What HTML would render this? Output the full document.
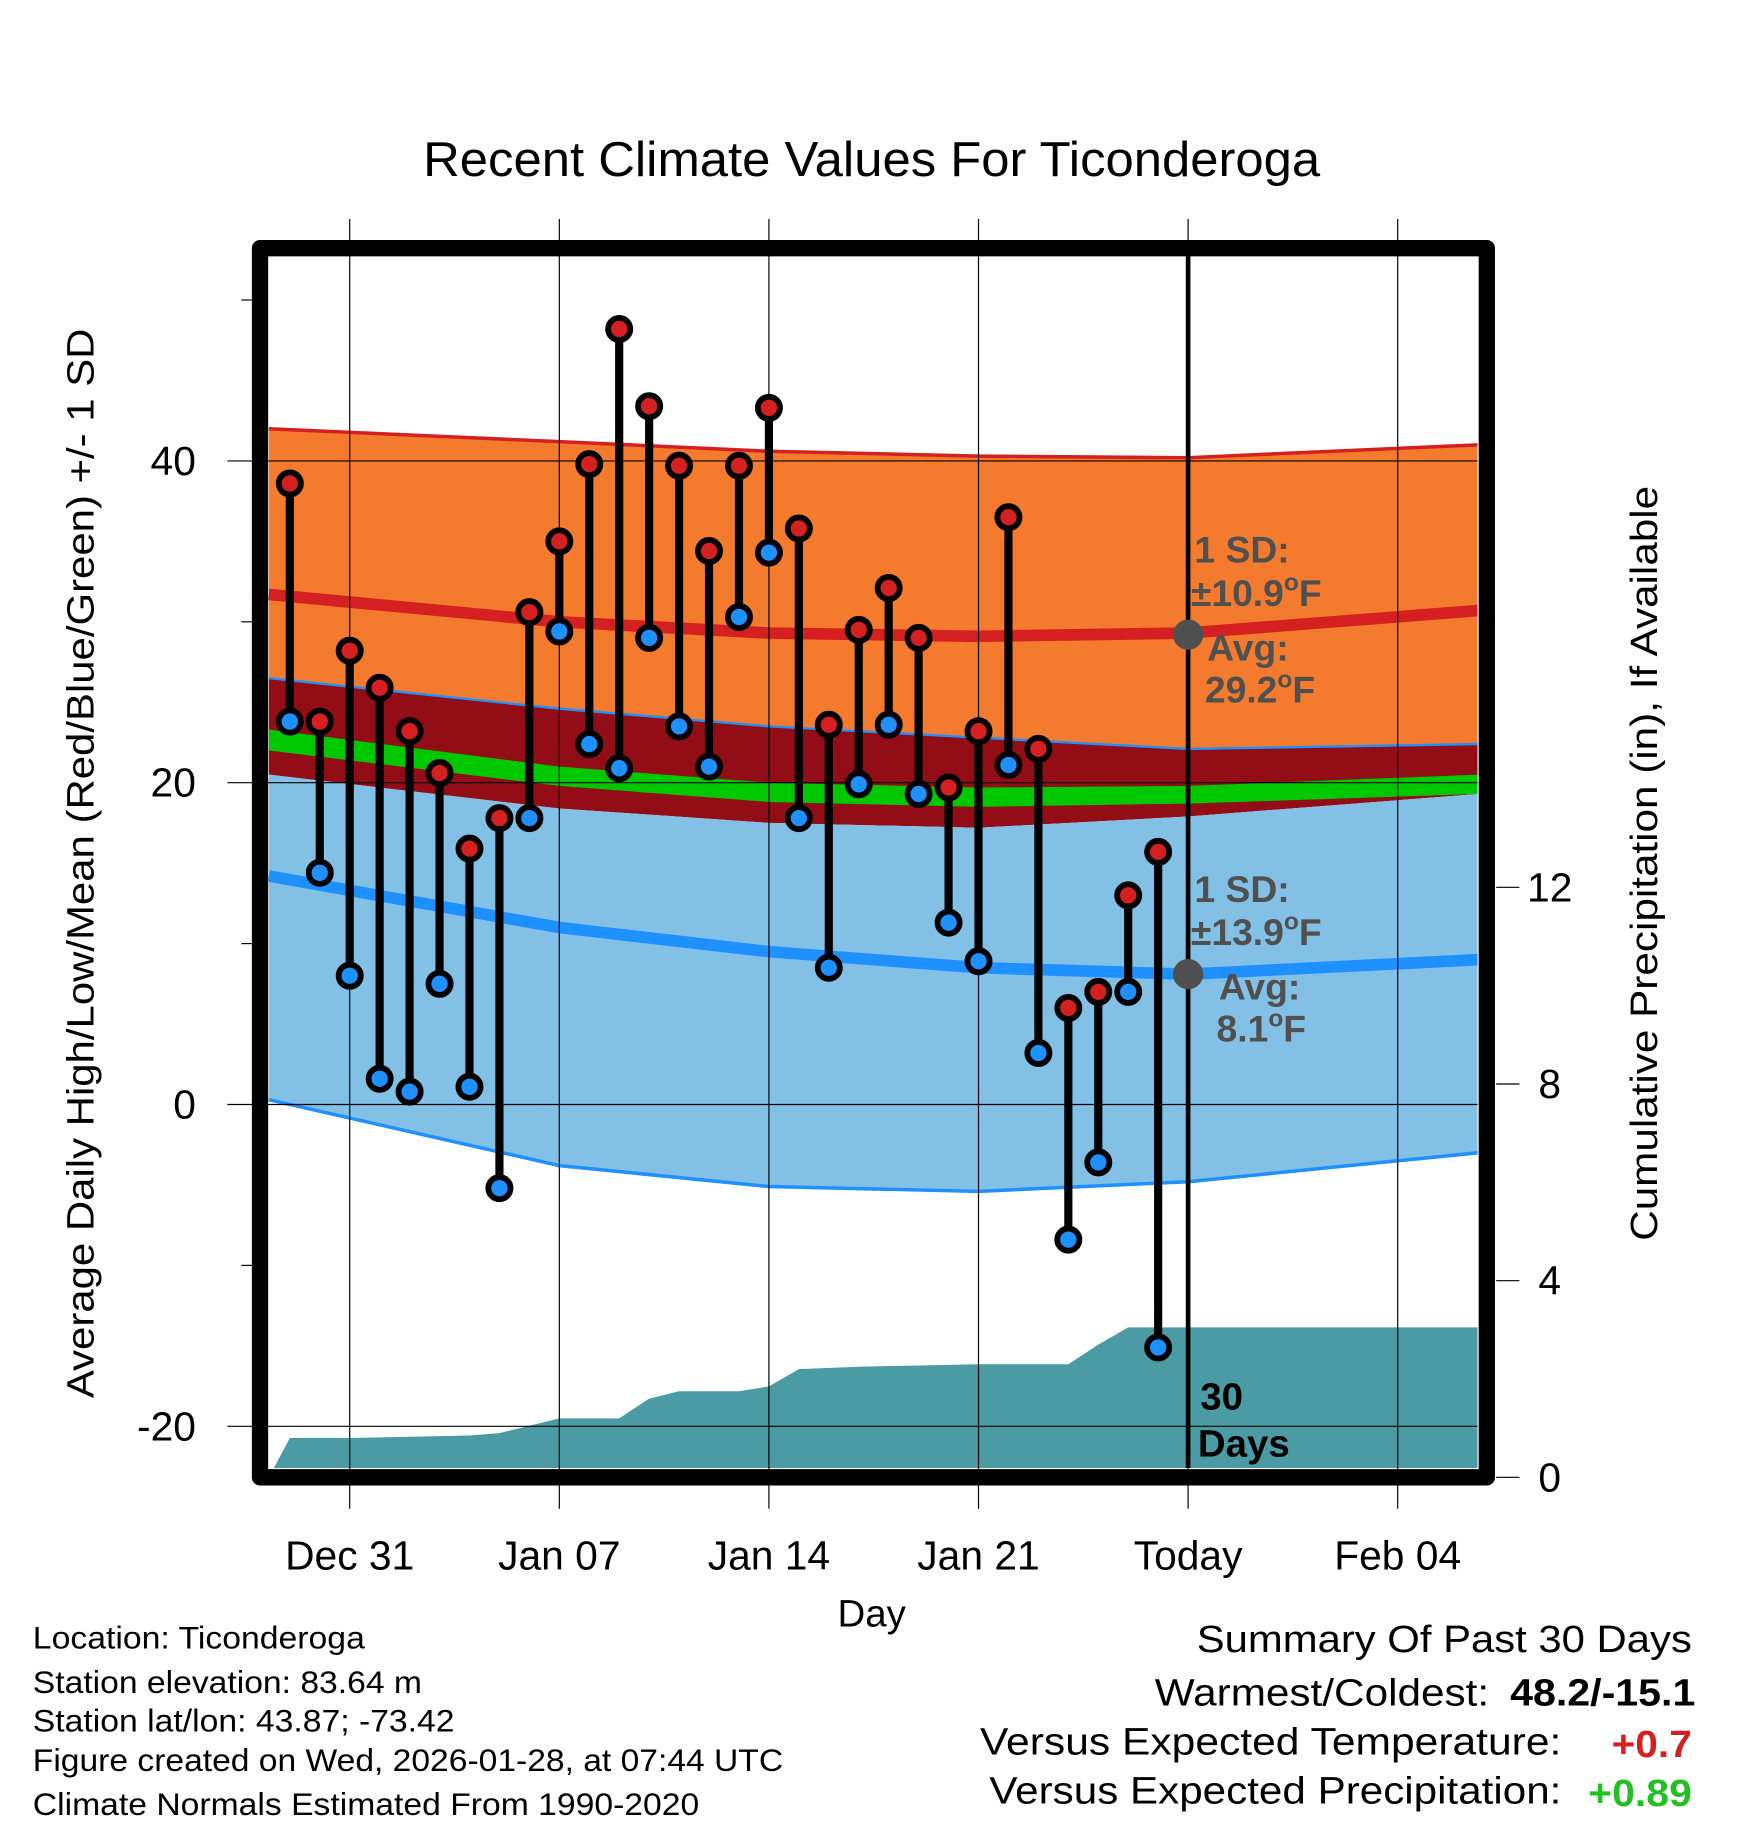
<!DOCTYPE html>
<html><head><meta charset="utf-8"><style>
html,body{margin:0;padding:0;background:#fff}
svg{display:block}
text{font-family:"Liberation Sans",Arial,sans-serif}
</style></head><body>
<svg id="chart" width="1748" height="1828" viewBox="0 0 1500 1569" xmlns="http://www.w3.org/2000/svg">
<text x="363" y="151" font-size="42" textLength="770" lengthAdjust="spacingAndGlyphs">Recent Climate Values For Ticonderoga</text>
<g id="plot"></g>
<text transform="translate(80,1200) rotate(-90)" font-size="33" textLength="918" lengthAdjust="spacingAndGlyphs">Average Daily High/Low/Mean (Red/Blue/Green) +/- 1 SD</text>
<text transform="translate(1422,1065) rotate(-90)" font-size="33" textLength="648" lengthAdjust="spacingAndGlyphs">Cumulative Precipitation (in), If Available</text>
<text x="748" y="1396" font-size="33" text-anchor="middle">Day</text>
<g font-size="27" lengthAdjust="spacingAndGlyphs">
<text x="28" y="1415" textLength="285" lengthAdjust="spacingAndGlyphs">Location: Ticonderoga</text>
<text x="28" y="1453" textLength="334" lengthAdjust="spacingAndGlyphs">Station elevation: 83.64 m</text>
<text x="28" y="1486" textLength="362" lengthAdjust="spacingAndGlyphs">Station lat/lon: 43.87; -73.42</text>
<text x="28" y="1520" textLength="644" lengthAdjust="spacingAndGlyphs">Figure created on Wed, 2026-01-28, at 07:44 UTC</text>
<text x="28" y="1558" textLength="572" lengthAdjust="spacingAndGlyphs">Climate Normals Estimated From 1990-2020</text>
</g>
<g font-size="33">
<text x="1027" y="1418" textLength="425" lengthAdjust="spacingAndGlyphs">Summary Of Past 30 Days</text>
<text x="991" y="1464" textLength="287" lengthAdjust="spacingAndGlyphs">Warmest/Coldest:</text>
<text x="1296" y="1464" font-weight="bold" textLength="159" lengthAdjust="spacingAndGlyphs">48.2/-15.1</text>
<text x="841" y="1506" textLength="499" lengthAdjust="spacingAndGlyphs">Versus Expected Temperature:</text>
<text x="1383" y="1508" font-weight="bold" fill="#d42020" textLength="69" lengthAdjust="spacingAndGlyphs">+0.7</text>
<text x="849" y="1548" textLength="491" lengthAdjust="spacingAndGlyphs">Versus Expected Precipitation:</text>
<text x="1363" y="1550" font-weight="bold" fill="#22c022" textLength="89" lengthAdjust="spacingAndGlyphs">+0.89</text>
</g>
</svg>
<script>
// ---- data ----
const dayLabels = ["Dec 31","Jan 07","Jan 14","Jan 21","Today","Feb 04"];
const dayTicks = [0,7,14,21,28,35];
const obsDays = [-2,-1,0,1,2,3,4,5,6,7,8,9,10,11,12,13,14,15,16,17,18,19,20,21,22,23,24,25,26,27];
const highs = [38.6,23.8,28.2,25.9,23.2,20.6,15.9,17.8,30.6,35.0,39.8,48.2,43.4,39.7,34.4,39.7,43.3,35.8,23.6,29.5,32.1,29.0,19.7,23.2,36.5,22.1,6.0,7.0,13.0,15.7];
const lows = [23.8,14.4,8.0,1.6,0.8,7.5,1.1,-5.2,17.8,29.4,22.4,20.9,29.0,23.5,21.0,30.3,34.3,17.8,8.5,19.9,23.6,19.3,11.3,8.9,21.1,3.2,-8.4,-3.6,7.0,-15.1];
const normDays = [-2.7,7,14,21,28,37.7];
const highMean = [31.7,30.0,29.3,29.1,29.3,30.7];
const highUp = [42.0,41.2,40.6,40.3,40.2,41.0];
const highDn = [26.5,24.6,23.5,22.8,22.1,22.4];
const lowMean = [14.2,11.0,9.5,8.5,8.1,9.0];
const lowUp = [20.5,18.4,17.5,17.2,17.9,19.3];
const lowDn = [0.3,-3.8,-5.1,-5.4,-4.8,-3.0];
const greenTop = [23.3,21.0,20.0,19.7,19.8,20.5];
const greenBot = [22.0,19.8,18.8,18.5,18.7,19.3];
const precipDays = [-2.7,-2,0,4,5,7,9,10,11,13,14,15,17,21,24,25,26,27,37.7];
const precipCum = [0,0.8,0.8,0.85,0.9,1.2,1.2,1.6,1.75,1.75,1.85,2.2,2.25,2.3,2.3,2.7,3.05,3.05,3.05];
const yTicks = [40,20,0,-20];
const yMinor = [50,30,10,-10];
const y2Ticks = [0,4,8,12];
const avgHigh = 29.2, avgLow = 8.1, today = 28;

// ---- axes ----
const X = d => 300 + d*25.7;
const Y = v => 948 - v*13.81;
const Y2 = p => 1268 - p*42.2;
const NS="http://www.w3.org/2000/svg";
const plot=document.getElementById('plot');
function el(tag,attrs,parent){const e=document.createElementNS(NS,tag);for(const k in attrs)e.setAttribute(k,attrs[k]);(parent||plot).appendChild(e);return e;}
const clip=el('clipPath',{id:'clip'});el('rect',{x:230,y:220,width:1038,height:1040},clip);
const g=el('g',{'clip-path':'url(#clip)'});
function band(up,dn,fill,name){
  let pts=normDays.map((d,i)=>X(d)+','+Y(up[i]));
  pts=pts.concat(normDays.map((d,i)=>X(d)+','+Y(dn[i])).reverse());
  const p=el('polygon',{points:pts.join(' '),fill:fill},g);
  
  
}
function line(arr,stroke,w,name){
  const p=el('polyline',{points:normDays.map((d,i)=>X(d)+','+Y(arr[i])).join(' '),fill:'none',stroke:stroke,'stroke-width':w},g);
  
  
}
band(highUp,highDn,'#f47a2e','high-sd-band');
band(highDn,lowUp,'#920d15','overlap-band');
band(greenTop,greenBot,'#00c800','mean-band');
band(lowUp,lowDn,'#82c0e6','low-sd-band');
line(highUp,'#d42020',3,'high-plus-sd-line');
line(highDn,'#1e90ff',2,'high-minus-sd-line');
line(lowDn,'#1e90ff',3,'low-minus-sd-line');
line(highMean,'#d42020',10,'high-mean-line');
line(lowMean,'#1e90ff',10,'low-mean-line');
// precip
{
  let pts=precipDays.map((d,i)=>X(d)+','+Y2(precipCum[i]));
  pts.push(X(37.7)+','+1262); pts.push(X(-2.7)+','+1262);
  const p=el('polygon',{points:pts.join(' '),fill:'#4a9ba4'},g);
  
  
}
// grid
dayTicks.forEach((d,i)=>{
  const l=el('line',{x1:X(d),x2:X(d),y1:188,y2:1295,stroke:'#000','stroke-width':1});
  
  
  const t=el('text',{x:X(d),y:1347,'font-size':35,'text-anchor':'middle'});
  t.textContent=dayLabels[i];
  
  
});
yTicks.forEach(v=>{
  const l=el('line',{x1:195,x2:1268,y1:Y(v),y2:Y(v),stroke:'#000','stroke-width':1});
  
  
  const t=el('text',{x:168,y:Y(v)+12,'font-size':35,'text-anchor':'end'});
  t.textContent=v;
  
  
});
yMinor.forEach(v=>{
  const l=el('line',{x1:207,x2:216,y1:Y(v),y2:Y(v),stroke:'#000','stroke-width':1});
  
  
});
y2Ticks.forEach(p=>{
  const l=el('line',{x1:1284,x2:1304,y1:Y2(p),y2:Y2(p),stroke:'#000','stroke-width':1});
  
  
  const t=el('text',{x:1330,y:Y2(p)+12,'font-size':35,'text-anchor':'middle'});
  t.textContent=p;
  
  
});
// today line
{
  const l=el('line',{x1:X(today),x2:X(today),y1:220,y2:1260,stroke:'#000','stroke-width':4});
  
  
}
// stems & markers
obsDays.forEach((d,i)=>{
  const s=el('line',{x1:X(d),x2:X(d),y1:Y(highs[i]),y2:Y(lows[i]),stroke:'#000','stroke-width':7});
  
  
});
obsDays.forEach((d,i)=>{
  const h=el('circle',{cx:X(d),cy:Y(highs[i]),r:9.5,fill:'#d42020',stroke:'#000','stroke-width':5});
  
  
  const lo=el('circle',{cx:X(d),cy:Y(lows[i]),r:9.5,fill:'#1e90ff',stroke:'#000','stroke-width':5});
  
  
});
// avg dots & annotations
[[avgHigh,'high'],[avgLow,'low']].forEach(([v,n])=>{
  const c=el('circle',{cx:X(today),cy:Y(v),r:13,fill:'#4f4f4f'});
  
  
});
function ann(x,y,txt,name){
  const t=el('text',{x:x,y:y,'font-size':32,'font-weight':'bold',fill:'#505050'});
  t.innerHTML=txt;
  
  
}
ann(1025,483,'1 SD:','high-sd-label');
ann(1022,520,'±10.9<tspan font-size="21" dy="-13">o</tspan><tspan dy="13">F</tspan>','high-sd-value');
ann(1036,567,'Avg:','high-avg-label');
ann(1034,603,'29.2<tspan font-size="21" dy="-13">o</tspan><tspan dy="13">F</tspan>','high-avg-value');
ann(1025,774,'1 SD:','low-sd-label');
ann(1022,811,'±13.9<tspan font-size="21" dy="-13">o</tspan><tspan dy="13">F</tspan>','low-sd-value');
ann(1046,858,'Avg:','low-avg-label');
ann(1044,894,'8.1<tspan font-size="21" dy="-13">o</tspan><tspan dy="13">F</tspan>','low-avg-value');
{
  const t=el('text',{x:1030,y:1210,'font-size':33,'font-weight':'bold',fill:'#000'});t.textContent='30';
  
  
  const t2=el('text',{x:1028,y:1250,'font-size':33,'font-weight':'bold',fill:'#000'});t2.textContent='Days';
  
  
}
// frame
{
  const r=el('rect',{x:223,y:213,width:1053,height:1055,fill:'none',stroke:'#000','stroke-width':14,'stroke-linejoin':'round'});
  
  
}
</script>
</body></html>
